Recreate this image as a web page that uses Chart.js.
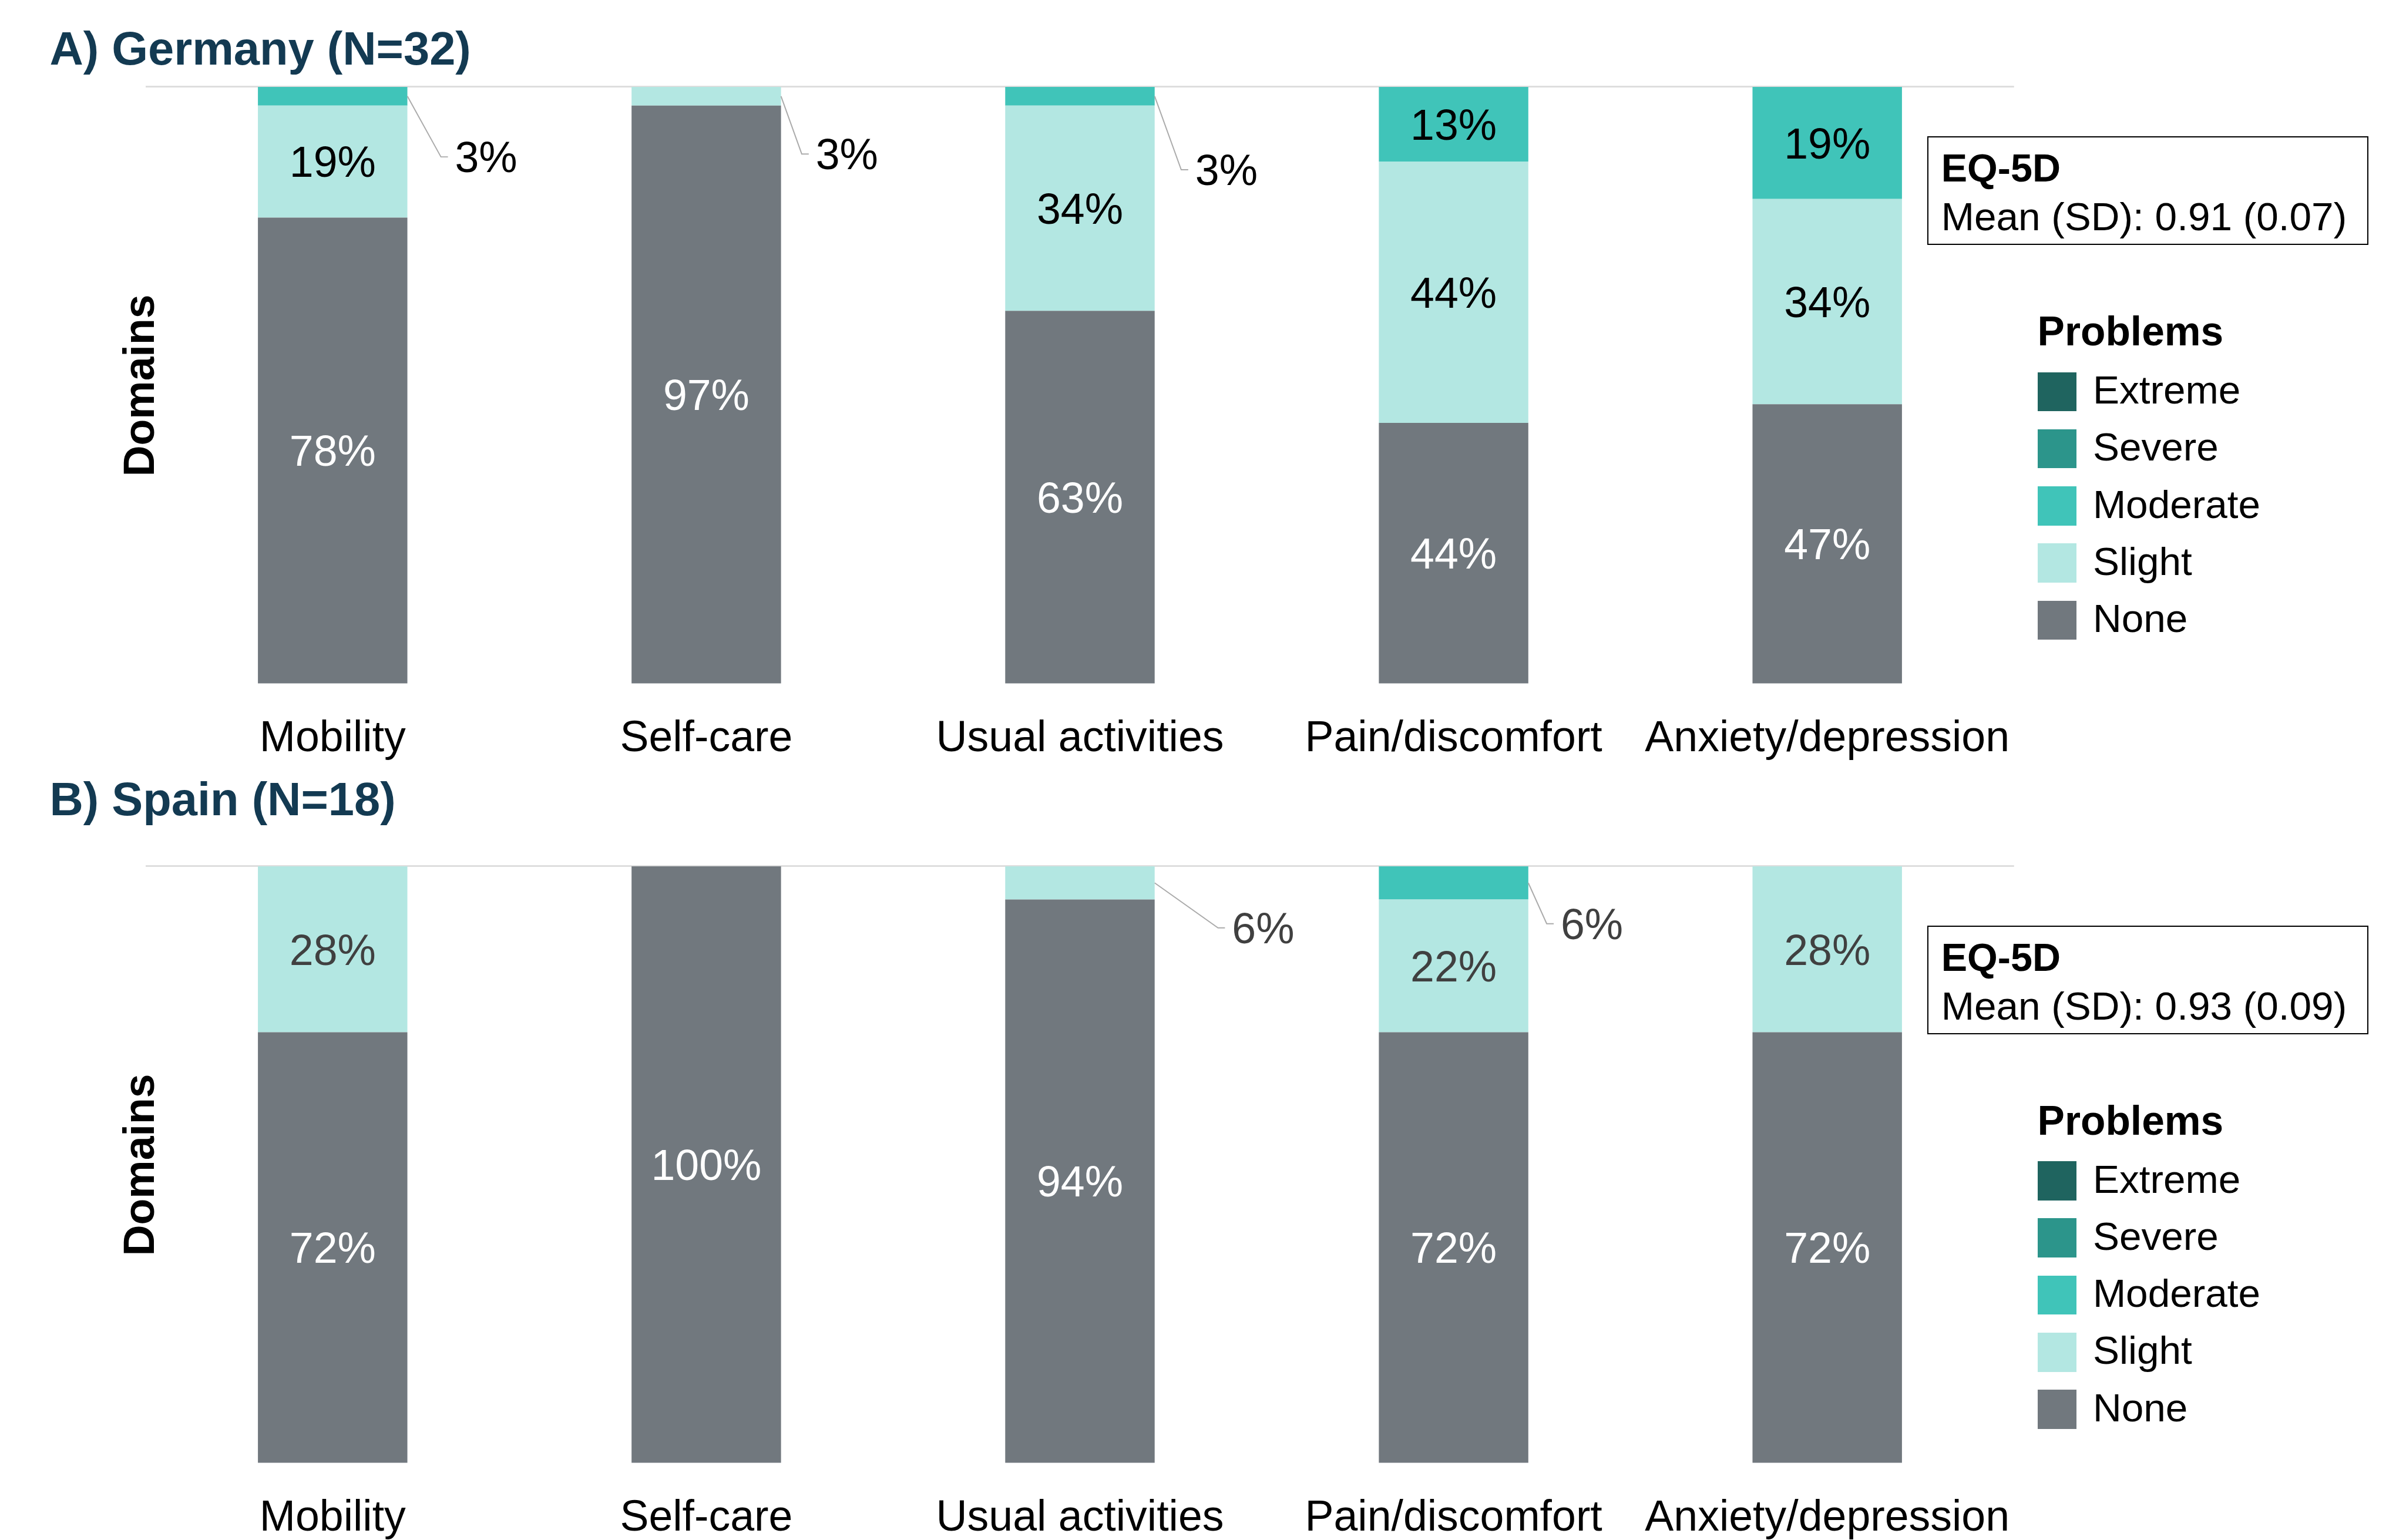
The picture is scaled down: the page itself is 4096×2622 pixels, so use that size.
<!DOCTYPE html>
<html>
<head>
<meta charset="utf-8">
<script src="https://cdn.jsdelivr.net/npm/chart.js@4.4.1/dist/chart.umd.min.js"></script>
<style>
  html, body { margin: 0; padding: 0; background: #fff; overflow: hidden; }
  #page { position: relative; width: 4096px; height: 2622px; font-family: "Liberation Sans", Arial, sans-serif; }
  .txt { position: absolute; white-space: nowrap; line-height: 1; }
  canvas { position: absolute; left: 0; }
</style>
</head>
<body>
<div id="page"></div>
<script>
// categories and levels
const categories = ['Mobility', 'Self-care', 'Usual activities', 'Pain/discomfort', 'Anxiety/depression'];
const levels = ['None', 'Slight', 'Moderate', 'Severe', 'Extreme'];
const levelColors = ['#71787e', '#b3e7e2', '#40c4b9', '#2c958b', '#1f645f'];

// A) Germany, N=32 (% of patients)
const deNone     = [78.125, 96.875, 62.5, 43.75, 46.875];
const deSlight   = [18.75, 3.125, 34.375, 43.75, 34.375];
const deModerate = [3.125, 0, 3.125, 12.5, 18.75];
const deSevere   = [0, 0, 0, 0, 0];
const deExtreme  = [0, 0, 0, 0, 0];

// B) Spain, N=18 (% of patients)
const esNone     = [72.22, 100, 94.44, 72.22, 72.22];
const esSlight   = [27.78, 0, 5.56, 22.22, 27.78];
const esModerate = [0, 0, 0, 5.56, 0];
const esSevere   = [0, 0, 0, 0, 0];
const esExtreme  = [0, 0, 0, 0, 0];

const S = 0.993;               // reference -> window
const k = v => v * S;
const FAM = '"Liberation Sans", Arial, sans-serif';
const page = document.getElementById('page');

const panels = [
  { title: 'A) Germany (N=32)', eq: 'Mean (SD): 0.91 (0.07)',
    series: [deNone, deSlight, deModerate, deSevere, deExtreme],
    top: 0, titleBase: 111, legendDy: 0, labelColor: '#000000',
    // ggrepel-ish offsets for small segments: "cat-level": [dx from bar edge, dy]
    repel: { '0-2': [135, 104], '1-1': [113, 99], '2-2': [123, 126] } },
  { title: 'B) Spain (N=18)', eq: 'Mean (SD): 0.93 (0.09)',
    series: [esNone, esSlight, esModerate, esSevere, esExtreme],
    top: 1336, titleBase: 1398, legendDy: 1353, labelColor: '#404040',
    repel: { '2-1': [186, 77], '3-2': [109, 70] } }
];

function addText(str, x, base, size, bold, color) {
  const d = document.createElement('div');
  d.className = 'txt';
  d.textContent = str;
  d.style.left = k(x) + 'px';
  d.style.top = k(base - 0.8465 * size) + 'px';
  d.style.fontSize = k(size) + 'px';
  d.style.fontWeight = bold ? 'bold' : 'normal';
  d.style.color = color;
  page.appendChild(d);
}

const segLabels = {
  id: 'segLabels',
  afterDatasetsDraw(chart) {
    const opts = chart.options.plugins.segLabels;
    const ctx = chart.ctx;
    const fs = k(74);
    const half = 0.358 * fs;   // half cap height
    ctx.save();
    ctx.font = fs + 'px ' + FAM;
    ctx.textBaseline = 'alphabetic';
    ctx.textAlign = 'center';
    chart.data.datasets.forEach((ds, di) => {
      chart.getDatasetMeta(di).data.forEach((bar, i) => {
        const v = ds.data[i];
        if (!v) return;
        const txt = Math.round(v) + '%';
        const yc = (bar.y + bar.base) / 2;
        const rep = opts.repel[i + '-' + di];
        if (rep) {
          const xr = bar.x + bar.width / 2;
          const cx = xr + k(rep[0]), cy = yc + k(rep[1]);
          const lx = cx - ctx.measureText(txt).width / 2;
          ctx.strokeStyle = '#ababab';
          ctx.lineWidth = k(2);
          ctx.beginPath();
          ctx.moveTo(xr, yc);
          ctx.lineTo(lx - k(24), cy);
          ctx.lineTo(lx - k(12), cy);
          ctx.stroke();
          ctx.fillStyle = opts.color;
          ctx.fillText(txt, cx, cy + half);
        } else {
          ctx.fillStyle = di === 0 ? '#ffffff' : opts.color;
          ctx.fillText(txt, bar.x, yc + half);
        }
      });
    });
    ctx.restore();
  }
};

panels.forEach(p => {
  // panel title
  addText(p.title, 85, p.titleBase, 80, true, '#133a52');

  // chart
  const cv = document.createElement('canvas');
  cv.width = Math.round(k(3560));
  cv.height = Math.round(k(1310));
  cv.style.top = k(p.top) + 'px';
  page.appendChild(cv);

  new Chart(cv.getContext('2d'), {
    type: 'bar',
    data: {
      labels: categories,
      datasets: levels.map((lv, i) => ({
        label: lv,
        data: p.series[i],
        backgroundColor: levelColors[i],
        borderWidth: 0,
        categoryPercentage: 1,
        barPercentage: 0.4
      }))
    },
    options: {
      responsive: false,
      animation: false,
      devicePixelRatio: 1,
      layout: { padding: { left: 0, top: k(149), right: k(107), bottom: 0 } },
      plugins: {
        legend: { display: false },
        tooltip: { enabled: false },
        segLabels: { repel: p.repel, color: p.labelColor }
      },
      scales: {
        x: {
          stacked: true,
          grid: { display: false, drawTicks: false, tickLength: 0 },
          border: { display: false },
          ticks: {
            color: '#000000', maxRotation: 0, autoSkip: false,
            font: { family: FAM, size: k(74), lineHeight: 1.2 },
            padding: k(94) - k(74) * 0.6
          },
          afterFit: s => { s.height = k(137); }
        },
        y: {
          stacked: true, min: 0, max: 100,
          ticks: { display: false, stepSize: 100 },
          grid: {
            color: c => (c.tick && c.tick.value === 100) ? '#dedede' : 'rgba(0,0,0,0)',
            lineWidth: k(3), drawTicks: false, tickLength: 0
          },
          border: { display: false },
          title: {
            display: true, text: 'Domains', color: '#000000',
            font: { family: FAM, size: k(74), weight: 'bold', lineHeight: 1.2 },
            padding: { top: k(243) - k(74) * 0.6, bottom: 0 }
          },
          afterFit: s => { s.width = k(250); }
        }
      }
    },
    plugins: [segLabels]
  });

  // EQ-5D box
  const dy = p.legendDy;
  const box = document.createElement('div');
  box.style.position = 'absolute';
  box.style.left = k(3304) + 'px';
  box.style.top = k(234 + dy) + 'px';
  box.style.width = k(756) + 'px';
  box.style.height = k(186) + 'px';
  box.style.border = k(2.5) + 'px solid #000';
  box.style.boxSizing = 'border-box';
  page.appendChild(box);
  addText('EQ-5D', 3328, 312 + dy, 67, true, '#000');
  addText(p.eq, 3328, 395 + dy, 68, false, '#000');

  // legend, top to bottom: Extreme .. None
  addText('Problems', 3493, 593 + dy, 70, true, '#000');
  levels.slice().reverse().forEach((lv, j) => {
    const col = levelColors[levels.length - 1 - j];
    const sq = document.createElement('div');
    sq.style.position = 'absolute';
    sq.style.left = k(3493) + 'px';
    sq.style.top = k(638 + j * 98 + dy) + 'px';
    sq.style.width = k(67) + 'px';
    sq.style.height = k(67) + 'px';
    sq.style.background = col;
    page.appendChild(sq);
    addText(lv, 3588, 692 + j * 98 + dy, 68, false, '#000');
  });
});
</script>
</body>
</html>
